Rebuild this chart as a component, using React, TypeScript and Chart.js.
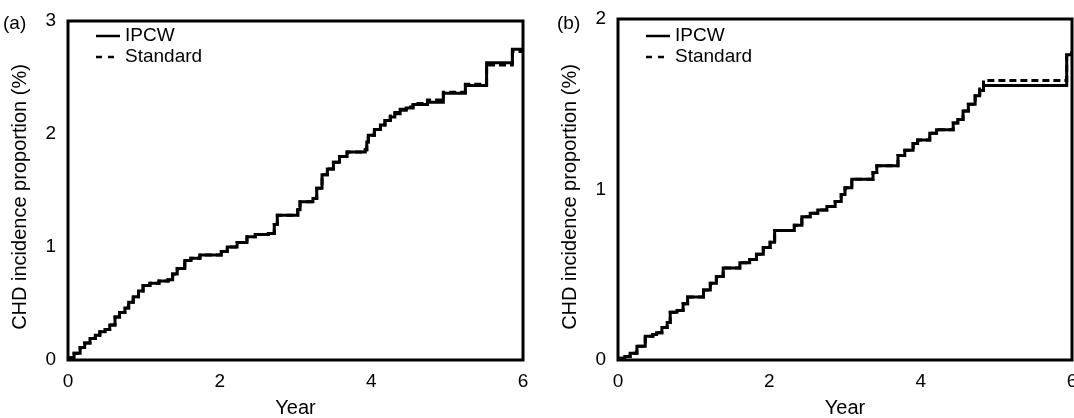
import React, { useEffect, useRef } from 'react';
import { Chart, registerables } from 'chart.js';

Chart.register(...registerables);

const FONT = '"Liberation Sans", Arial, Helvetica, sans-serif';

// ---------- data ----------
const seriesLabels = ['IPCW', 'Standard'];
const xTicks = [0, 2, 4, 6];
const yTicksA = [0, 1, 2, 3];
const yTicksB = [0, 1, 2];
const xTitle = 'Year';
const yTitle = 'CHD incidence proportion (%)';

// Panel (a)
const yearsA = [
  0, 0.03, 0.08, 0.16, 0.22, 0.29, 0.36, 0.42, 0.49, 0.55,
  0.62, 0.68, 0.75, 0.8, 0.86, 0.93, 0.99, 1.08, 1.2, 1.32,
  1.38, 1.44, 1.54, 1.62, 1.74, 2.02, 2.1, 2.23, 2.36, 2.47,
  2.64, 2.72, 2.76, 3.03, 3.06, 3.23, 3.28, 3.35, 3.42, 3.5,
  3.58, 3.68, 3.92, 3.94, 3.96, 4.04, 4.12, 4.18, 4.25, 4.31,
  4.38, 4.46, 4.55, 4.74, 4.95, 5.24, 5.52, 5.86, 6.0,
];
const ipcwA = [
  0, 0.02, 0.06, 0.11, 0.15, 0.19, 0.22, 0.25, 0.27, 0.31,
  0.38, 0.42, 0.46, 0.51, 0.56, 0.61, 0.66, 0.68, 0.7, 0.71,
  0.76, 0.81, 0.88, 0.9, 0.93, 0.96, 1.0, 1.04, 1.09, 1.11,
  1.12, 1.2, 1.28, 1.33, 1.4, 1.43, 1.52, 1.64, 1.69, 1.75,
  1.8, 1.84, 1.86, 1.93, 1.99, 2.04, 2.08, 2.12, 2.15, 2.18,
  2.21, 2.23, 2.26, 2.28, 2.36, 2.43, 2.63, 2.75, 2.75,
];
const standardA = [
  0, 0.02, 0.06, 0.11, 0.15, 0.19, 0.22, 0.25, 0.27, 0.31,
  0.38, 0.42, 0.46, 0.51, 0.56, 0.61, 0.66, 0.68, 0.7, 0.71,
  0.76, 0.81, 0.88, 0.9, 0.93, 0.96, 1.0, 1.04, 1.09, 1.11,
  1.12, 1.2, 1.28, 1.33, 1.4, 1.43, 1.52, 1.64, 1.69, 1.75,
  1.8, 1.84, 1.86, 1.93, 1.99, 2.04, 2.08, 2.12, 2.16, 2.19,
  2.22, 2.24, 2.27, 2.3, 2.37, 2.44, 2.61, 2.73, 2.73,
];

// Panel (b)
const yearsB = [
  0, 0.03, 0.09, 0.16, 0.25, 0.36, 0.46, 0.51, 0.58, 0.65,
  0.69, 0.78, 0.86, 0.92, 1.13, 1.22, 1.3, 1.39, 1.61, 1.74,
  1.83, 1.92, 2.01, 2.07, 2.33, 2.43, 2.54, 2.64, 2.76, 2.87,
  2.95, 3.0, 3.09, 3.37, 3.42, 3.7, 3.79, 3.9, 3.96, 4.12,
  4.21, 4.43, 4.49, 4.56, 4.63, 4.72, 4.78, 4.83, 5.93, 6.0,
];
const ipcwB = [
  0, 0.01, 0.02, 0.04, 0.08, 0.14, 0.15, 0.16, 0.19, 0.22,
  0.28, 0.29, 0.33, 0.37, 0.41, 0.45, 0.49, 0.54, 0.57, 0.59,
  0.62, 0.66, 0.69, 0.76, 0.79, 0.84, 0.86, 0.88, 0.9, 0.93,
  0.97, 1.01, 1.06, 1.1, 1.14, 1.2, 1.23, 1.27, 1.29, 1.33,
  1.35, 1.39, 1.41, 1.46, 1.5, 1.55, 1.58, 1.61, 1.79, 1.79,
];
const standardB = [
  0, 0.01, 0.02, 0.04, 0.08, 0.14, 0.15, 0.16, 0.19, 0.22,
  0.28, 0.29, 0.33, 0.37, 0.41, 0.45, 0.49, 0.54, 0.57, 0.59,
  0.62, 0.66, 0.69, 0.76, 0.79, 0.84, 0.86, 0.88, 0.9, 0.93,
  0.97, 1.01, 1.06, 1.1, 1.14, 1.2, 1.23, 1.27, 1.29, 1.33,
  1.35, 1.39, 1.41, 1.46, 1.5, 1.56, 1.59, 1.64, 1.8, 1.8,
];

// ---------- chart helpers ----------
const toPoints = (xs: number[], ys: number[]) => xs.map((x, i) => ({ x, y: ys[i] }));

const decorPlugin = {
  id: 'panelDecor',
  afterDatasetsDraw(chart: any, _args: any, opts: any) {
    const { ctx, chartArea: a } = chart;
    ctx.save();
    ctx.strokeStyle = '#000';
    ctx.lineWidth = 3;
    ctx.setLineDash([]);
    ctx.strokeRect(a.left, a.top, a.right - a.left, a.bottom - a.top);

    ctx.font = `19px ${FONT}`;
    ctx.fillStyle = '#000';
    ctx.textBaseline = 'middle';
    ctx.textAlign = 'left';
    chart.data.datasets.forEach((ds: any, i: number) => {
      const y = opts.legendY[i];
      ctx.lineWidth = 2.5;
      ctx.setLineDash(i === 0 ? [] : [6, 6]);
      ctx.beginPath();
      ctx.moveTo(a.left + 28, y);
      ctx.lineTo(a.left + 52, y);
      ctx.stroke();
      ctx.setLineDash([]);
      ctx.fillText(ds.label, a.left + 57, y);
    });
    ctx.fillText(opts.tag, opts.tagX, 24);

    // rotated y-axis title
    ctx.font = `20px ${FONT}`;
    ctx.textAlign = 'center';
    ctx.translate(opts.yTitleX, opts.yTitleY);
    ctx.rotate(-Math.PI / 2);
    ctx.fillText(yTitle, 0, 0);
    ctx.restore();
  },
};

function makeConfig(
  years: number[],
  ipcw: number[],
  standard: number[],
  yTicks: number[],
  pad: { right: number; top: number },
  tag: string,
  tagX: number,
) {
  const tickFont = { family: FONT, size: 19 };
  const titleFont = { family: FONT, size: 20 };
  return {
    type: 'line',
    data: {
      datasets: [
        {
          label: seriesLabels[0],
          data: toPoints(years, ipcw),
          borderColor: '#000',
          borderWidth: 3,
          pointRadius: 0,
          stepped: true,
          fill: false,
        },
        {
          label: seriesLabels[1],
          data: toPoints(years, standard),
          borderColor: '#000',
          borderWidth: 3,
          borderDash: [7, 4],
          pointRadius: 0,
          stepped: true,
          fill: false,
        },
      ],
    },
    options: {
      animation: false,
      responsive: false,
      events: [],
      layout: { padding: { left: 0, right: pad.right, top: pad.top, bottom: 0 } },
      plugins: {
        legend: { display: false },
        tooltip: { enabled: false },
        panelDecor: { legendY: [36, 57], tag, tagX, yTitleX: 20, yTitleY: 197 },
      },
      scales: {
        x: {
          type: 'linear',
          min: 0,
          max: 6,
          grid: { display: false, drawTicks: false },
          border: { display: false },
          afterBuildTicks: (s: any) => {
            s.ticks = xTicks.map((v) => ({ value: v }));
          },
          afterFit: (s: any) => {
            s.height = 58;
            s.paddingLeft = 0;
            s.paddingRight = 0;
          },
          ticks: { color: '#000', font: tickFont, padding: 10, maxRotation: 0 },
          title: {
            display: true,
            text: xTitle,
            color: '#000',
            font: titleFont,
            padding: { top: 0, bottom: -2 },
          },
        },
        y: {
          type: 'linear',
          min: yTicks[0],
          max: yTicks[yTicks.length - 1],
          grid: { display: false, drawTicks: false },
          border: { display: false },
          afterBuildTicks: (s: any) => {
            s.ticks = yTicks.map((v) => ({ value: v }));
          },
          afterFit: (s: any) => {
            s.width = 68;
            s.paddingTop = 0;
            s.paddingBottom = 0;
          },
          ticks: { color: '#000', font: tickFont, padding: 12 },
        },
      },
    },
    plugins: [decorPlugin],
  } as any;
}

export default function App() {
  const refA = useRef<HTMLCanvasElement | null>(null);
  const refB = useRef<HTMLCanvasElement | null>(null);

  useEffect(() => {
    const chartA = new Chart(
      refA.current as HTMLCanvasElement,
      makeConfig(yearsA, ipcwA, standardA, yTicksA, { right: 27, top: 21 }, '(a)', 3),
    );
    const chartB = new Chart(
      refB.current as HTMLCanvasElement,
      makeConfig(yearsB, ipcwB, standardB, yTicksB, { right: 2, top: 19 }, '(b)', 7),
    );
    return () => {
      chartA.destroy();
      chartB.destroy();
    };
  }, []);

  return (
    <div style={{ position: 'absolute', left: 0, top: 0, width: 1074, height: 418, background: '#fff', overflow: 'hidden' }}>
      <canvas
        ref={refA}
        width={550}
        height={418}
        style={{ position: 'absolute', left: 0, top: 0, width: 550, height: 418 }}
      />
      <canvas
        ref={refB}
        width={524}
        height={418}
        style={{ position: 'absolute', left: 550, top: 0, width: 524, height: 418 }}
      />
    </div>
  );
}
